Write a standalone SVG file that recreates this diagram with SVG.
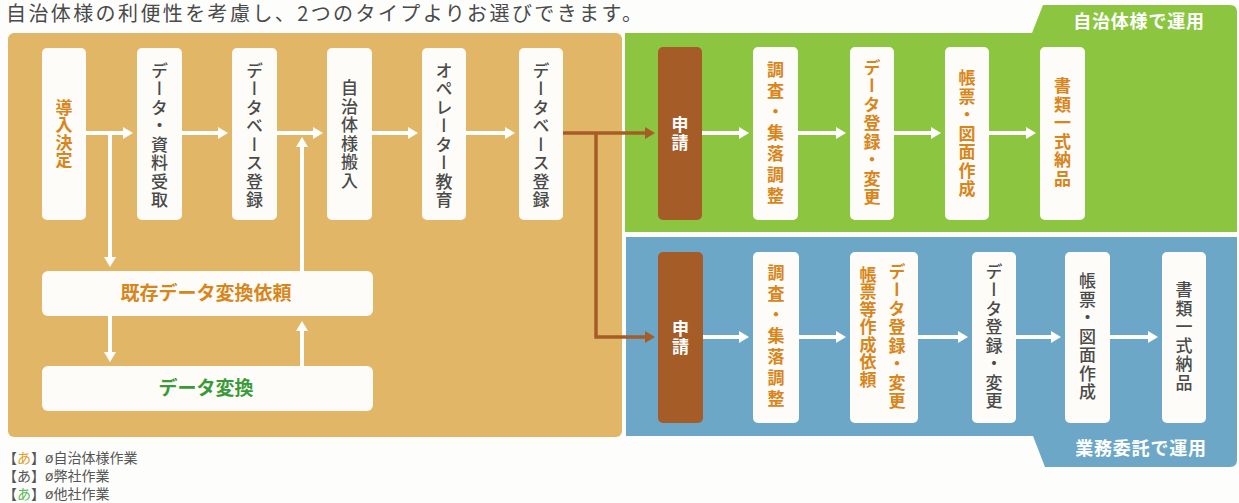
<svg xmlns="http://www.w3.org/2000/svg" width="1239" height="503" viewBox="0 0 1239 503">
<style>
.bg{fill:#fdfdfb}
.tan{fill:#e1b767}
.grn{fill:#8cc640}
.blu{fill:#6ca7c7}
.box{fill:#fdfcf8}
.brn{fill:#a65c27}
.v{font-family:"Noto Sans CJK JP","Noto Sans CJK SC",sans-serif;font-size:17px;writing-mode:vertical-rl;text-orientation:upright;text-anchor:middle;letter-spacing:1.5px}
.or{fill:#d8861c;font-weight:700}
.gy{fill:#4a4a4a;font-weight:500}
.wt{fill:#ffffff;font-weight:700}
.h{font-family:"Noto Sans CJK JP","Noto Sans CJK SC",sans-serif;text-anchor:middle;font-weight:700}
.wl{fill:none;stroke:#ffffff;stroke-width:4}
.bl{fill:none;stroke:#a65c27;stroke-width:3.5}
.lg{font-family:"Noto Sans CJK JP","Noto Sans CJK SC",sans-serif;font-size:14px;fill:#555555}
</style>
<defs>
<marker id="aw" viewBox="0 0 10 12" refX="3" refY="6" markerWidth="10" markerHeight="12" markerUnits="userSpaceOnUse" orient="auto"><path d="M0,0 L10,6 L0,12 Z" fill="#ffffff"/></marker>
<marker id="ab" viewBox="0 0 10 12" refX="3" refY="6" markerWidth="10" markerHeight="12" markerUnits="userSpaceOnUse" orient="auto"><path d="M0,0 L10,6 L0,12 Z" fill="#a65c27"/></marker>
</defs>
<rect class="bg" x="0" y="0" width="1239" height="503"/>
<text x="6" y="21" font-family="Noto Sans CJK JP, Noto Sans CJK SC, sans-serif" font-size="20" letter-spacing="2.4" fill="#4a4a4a">自治体様の利便性を考慮し、2つのタイプよりお選びできます。</text>

<g id="panels">
<rect class="tan" x="8" y="33" width="614" height="404" rx="6"/>
<path class="grn" d="M625,33 H1032 L1043,5 H1230 Q1237,5 1237,12 V232 H625 Z"/>
<path class="blu" d="M626,237 H1237 V460 Q1237,467 1230,467 H1045 L1033,436 H626 Z"/>
<text class="h" x="1139" y="28" font-size="18" letter-spacing="0.8" fill="#ffffff">自治体様で運用</text>
<text class="h" x="1141" y="455" font-size="18" letter-spacing="0.8" fill="#ffffff">業務委託で運用</text>
</g>

<g id="connectors">
<path class="wl" d="M86,133 H126" marker-end="url(#aw)"/>
<path class="wl" d="M182,133 H221" marker-end="url(#aw)"/>
<path class="wl" d="M277,133 H316" marker-end="url(#aw)"/>
<path class="wl" d="M372,133 H411" marker-end="url(#aw)"/>
<path class="wl" d="M466,133 H508" marker-end="url(#aw)"/>
<path class="wl" d="M110,133 V260" marker-end="url(#aw)"/>
<path class="wl" d="M302,272 V144" marker-end="url(#aw)"/>
<path class="wl" d="M110,316 V355" marker-end="url(#aw)"/>
<path class="wl" d="M302,366 V328" marker-end="url(#aw)"/>
<path class="bl" d="M563,133 H648" marker-end="url(#ab)"/>
<path class="bl" d="M596,133 V337 H648" marker-end="url(#ab)"/>
<path class="wl" d="M702,133 H742" marker-end="url(#aw)"/>
<path class="wl" d="M798,133 H839" marker-end="url(#aw)"/>
<path class="wl" d="M894,133 H934" marker-end="url(#aw)"/>
<path class="wl" d="M989,133 H1029" marker-end="url(#aw)"/>
<path class="wl" d="M703,337 H742" marker-end="url(#aw)"/>
<path class="wl" d="M799,337 H839" marker-end="url(#aw)"/>
<path class="wl" d="M918,337 H961" marker-end="url(#aw)"/>
<path class="wl" d="M1016,337 H1054" marker-end="url(#aw)"/>
<path class="wl" d="M1110,337 H1151" marker-end="url(#aw)"/>
</g>

<g id="n1"><rect class="box" x="42" y="48" width="44" height="172" rx="5"/><text class="v or" x="64" y="134" style="letter-spacing:0.5px">導入決定</text></g>
<g id="n2"><rect class="box" x="137" y="48" width="45" height="172" rx="5"/><text class="v gy" x="159.5" y="136">データ・資料受取</text></g>
<g id="n3"><rect class="box" x="232" y="48" width="45" height="172" rx="5"/><text class="v gy" x="254.5" y="136">データベース登録</text></g>
<g id="n4"><rect class="box" x="327" y="48" width="45" height="172" rx="5"/><text class="v gy" x="349.5" y="135">自治体様搬入</text></g>
<g id="n5"><rect class="box" x="422" y="48" width="44" height="172" rx="5"/><text class="v gy" x="444" y="136">オペレーター教育</text></g>
<g id="n6"><rect class="box" x="519" y="48" width="44" height="172" rx="5"/><text class="v gy" x="541" y="136">データベース登録</text></g>
<g id="n7"><rect class="box" x="42" y="271" width="331" height="45" rx="6"/><text class="h" x="206" y="300" font-size="19" fill="#d8861c">既存データ変換依頼</text></g>
<g id="n8"><rect class="box" x="42" y="366" width="331" height="45" rx="6"/><text class="h" x="206" y="395" font-size="19" fill="#3a9a38">データ変換</text></g>

<g id="g1"><rect class="brn" x="658" y="47" width="44" height="173" rx="5"/><text class="v wt" x="680" y="134" style="letter-spacing:0.5px">申請</text></g>
<g id="g2"><rect class="box" x="753" y="47" width="45" height="173" rx="5"/><text class="v or" x="775.5" y="135" style="letter-spacing:4px">調査・集落調整</text></g>
<g id="g3"><rect class="box" x="850" y="47" width="44" height="173" rx="5"/><text class="v or" x="872" y="133">データ登録・変更</text></g>
<g id="g4"><rect class="box" x="945" y="47" width="44" height="173" rx="5"/><text class="v or" x="967" y="134">帳票・図面作成</text></g>
<g id="g5"><rect class="box" x="1040" y="47" width="45" height="173" rx="5"/><text class="v or" x="1062.5" y="133">書類一式納品</text></g>

<g id="b1"><rect class="brn" x="658" y="252" width="45" height="171" rx="5"/><text class="v wt" x="680.5" y="338" style="letter-spacing:0.5px">申請</text></g>
<g id="b2"><rect class="box" x="753" y="252" width="46" height="171" rx="5"/><text class="v or" x="776" y="338" style="letter-spacing:4px">調査・集落調整</text></g>
<g id="b3"><rect class="box" x="850" y="252" width="68" height="171" rx="5"/><text class="v or" x="897" y="337">データ登録・変更</text><text class="v or" x="868" y="327" style="letter-spacing:0.5px">帳票等作成依頼</text></g>
<g id="b4"><rect class="box" x="972" y="252" width="44" height="171" rx="5"/><text class="v gy" x="994" y="337">データ登録・変更</text></g>
<g id="b5"><rect class="box" x="1065" y="252" width="45" height="171" rx="5"/><text class="v gy" x="1087.5" y="337">帳票・図面作成</text></g>
<g id="b6"><rect class="box" x="1162" y="252" width="44" height="171" rx="5"/><text class="v gy" x="1184" y="337">書類一式納品</text></g>

<g id="legend">
<text class="lg" x="3" y="463">【<tspan fill="#e0a030">あ</tspan>】ø自治体様作業</text>
<text class="lg" x="3" y="481">【あ】ø弊社作業</text>
<text class="lg" x="3" y="499">【<tspan fill="#5cb85c">あ</tspan>】ø他社作業</text>
</g>
</svg>
